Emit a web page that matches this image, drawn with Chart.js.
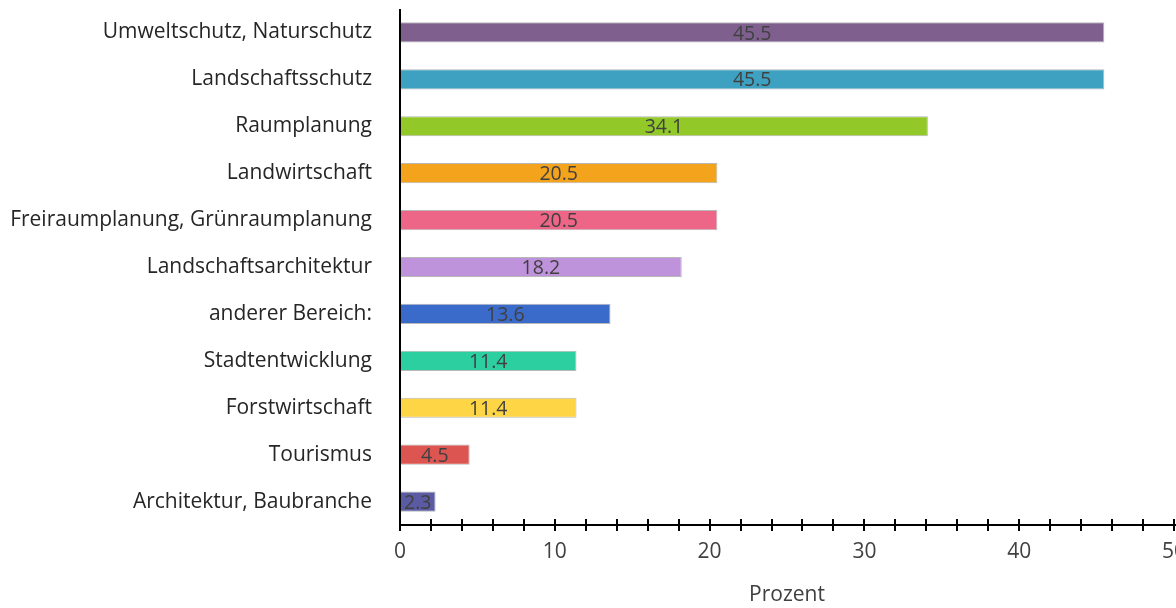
<!DOCTYPE html>
<html>
<head>
<meta charset="utf-8">
<script src="https://cdn.jsdelivr.net/npm/chart.js@4.4.1/dist/chart.umd.min.js"></script>
<style>
  html, body { margin: 0; padding: 0; background: #fff; overflow: hidden; }
  #wrap { position: relative; width: 1200px; height: 608px; }
</style>
</head>
<body>
<div id="wrap"><canvas id="chart"></canvas></div>
<script>
// Data
const categories = [
  'Umweltschutz, Naturschutz',
  'Landschaftsschutz',
  'Raumplanung',
  'Landwirtschaft',
  'Freiraumplanung, Grünraumplanung',
  'Landschaftsarchitektur',
  'anderer Bereich:',
  'Stadtentwicklung',
  'Forstwirtschaft',
  'Tourismus',
  'Architektur, Baubranche'
];
const percentValues = [45.5, 45.5, 34.1, 20.5, 20.5, 18.2, 13.6, 11.4, 11.4, 4.5, 2.3];
const barColors = [
  '#7e5f8e', '#3ea1c1', '#92c828', '#f4a31c', '#ee6687', '#bf92dc',
  '#3a6bcb', '#2bcfa0', '#fed545', '#dc5551', '#5b5ba3'
];
const xTickLabels = [0, 10, 20, 30, 40, 50];

const FONT = "'Open Sans', sans-serif";

// Value labels centred inside bars
const barLabels = {
  id: 'barLabels',
  afterDatasetsDraw(chart) {
    const { ctx } = chart;
    const meta = chart.getDatasetMeta(0);
    ctx.save();
    ctx.font = '19.5px ' + FONT;
    ctx.fillStyle = '#404040';
    ctx.textAlign = 'center';
    ctx.textBaseline = 'middle';
    meta.data.forEach((bar, i) => {
      const x = (bar.x + bar.base) / 2;
      ctx.fillText(percentValues[i].toFixed(1), x, bar.y + 1.5);
    });
    ctx.restore();
  }
};

// Axis lines and tick marks crossing the x axis
const crossTicks = {
  id: 'crossTicks',
  afterDraw(chart) {
    const { ctx, chartArea } = chart;
    const xs = chart.scales.x;
    const y = Math.round(chartArea.bottom);
    ctx.save();
    ctx.strokeStyle = '#000';
    ctx.lineWidth = 2;
    ctx.beginPath();
    xs.ticks.forEach(t => {
      if (t.value === 0) return;
      const px = Math.round(xs.getPixelForValue(t.value));
      ctx.moveTo(px, y - 6);
      ctx.lineTo(px, y + 6);
    });
    ctx.moveTo(chartArea.left, y);
    ctx.lineTo(chartArea.right + 2, y);
    ctx.moveTo(chartArea.left, chartArea.top);
    ctx.lineTo(chartArea.left, y + 6);
    ctx.stroke();
    ctx.restore();
  }
};

new Chart(document.getElementById('chart'), {
  type: 'bar',
  data: {
    labels: categories,
    datasets: [{
      data: percentValues,
      backgroundColor: barColors,
      borderColor: '#b8b8b8',
      borderWidth: 1,
      borderSkipped: false,
      barPercentage: 0.43,
      categoryPercentage: 1
    }]
  },
  options: {
    indexAxis: 'y',
    responsive: true,
    maintainAspectRatio: false,
    animation: false,
    layout: { padding: { top: 9, right: 26, bottom: 0, left: 0 } },
    plugins: {
      legend: { display: false },
      tooltip: { enabled: false }
    },
    scales: {
      x: {
        min: 0,
        max: 50,
        border: { display: false },
        grid: { display: false, drawTicks: false },
        ticks: {
          stepSize: 2,
          autoSkip: false,
          maxRotation: 0,
          padding: 14,
          color: '#404040',
          font: { family: FONT, size: 21 },
          callback: v => (xTickLabels.includes(v) ? String(v) : '')
        },
        title: {
          display: true,
          text: 'Prozent',
          color: '#404040',
          font: { family: FONT, size: 21 },
          padding: { top: 8, bottom: 0 }
        },
        afterFit: s => { s.height = 83; }
      },
      y: {
        border: { display: false },
        grid: { display: false, drawTicks: false },
        ticks: {
          padding: 28,
          color: '#262626',
          font: { family: FONT, size: 21 }
        },
        afterFit: s => {
          s.width = 400;
          s.paddingTop = 0;
          s.paddingBottom = 0;
        }
      }
    }
  },
  plugins: [barLabels, crossTicks]
});
</script>
</body>
</html>
